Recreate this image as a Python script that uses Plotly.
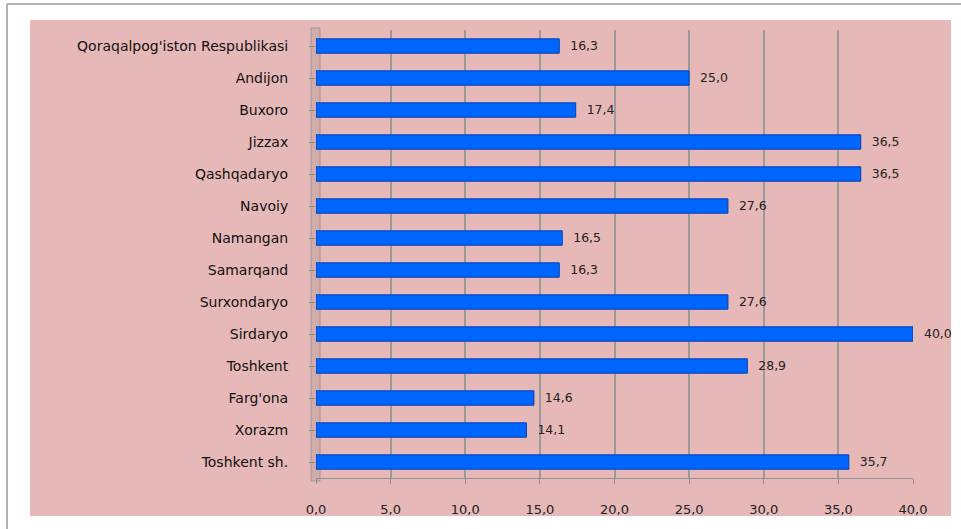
import plotly.graph_objects as go

regions = ["Qoraqalpog'iston Respublikasi", "Andijon", "Buxoro", "Jizzax", "Qashqadaryo",
           "Navoiy", "Namangan", "Samarqand", "Surxondaryo", "Sirdaryo", "Toshkent",
           "Farg'ona", "Xorazm", "Toshkent sh."]
values = [16.3, 25.0, 17.4, 36.5, 36.5, 27.6, 16.5, 16.3, 27.6, 40.0, 28.9, 14.6, 14.1, 35.7]
x_ticks = [0, 5, 10, 15, 20, 25, 30, 35, 40]

W, H = 961, 529
L, R, T, B = 316, 48, 30, 51
pw, ph = W - L - R, H - T - B

def px(x):
    return (x - L) / pw

def py(y):
    return (H - B - y) / ph

fig = go.Figure()
fig.add_trace(go.Bar(
    y=regions, x=values, orientation="h",
    marker=dict(color="#0066FF", line=dict(color="#0042B0", width=1)),
    width=0.45,
    texttemplate="  %{x:.1f}", textposition="outside",
    textfont=dict(family="DejaVu Sans", size=13, color="#222222"),
    cliponaxis=False,
))

shapes = [
    dict(type="rect", xref="paper", yref="paper", x0=px(30), x1=px(951), y0=py(516), y1=py(20),
         fillcolor="#E6B8B7", line=dict(width=0), layer="below"),
    dict(type="line", xref="paper", yref="paper", x0=px(7), x1=px(7), y0=py(529), y1=py(4),
         line=dict(color="#9A9A9A", width=1.5)),
    dict(type="line", xref="paper", yref="paper", x0=px(7), x1=px(961), y0=py(4), y1=py(4),
         line=dict(color="#9A9A9A", width=1.5)),
    dict(type="rect", xref="paper", yref="paper", x0=px(311), x1=px(320), y0=py(481), y1=py(28),
         fillcolor="#D2ACAB", line=dict(color="#9A9A9A", width=1), layer="below"),
]

fig.update_layout(
    width=W, height=H,
    margin=dict(l=L, r=R, t=T, b=B),
    paper_bgcolor="white",
    plot_bgcolor="#E6B8B7",
    separators=", ",
    showlegend=False,
    bargap=0.5,
    shapes=shapes,
    xaxis=dict(range=[0, 40], tickvals=x_ticks, tickformat=".1f",
               showgrid=True, gridcolor="#9A9A9A", gridwidth=1.5,
               zeroline=False, showline=True, linecolor="#8F8F8F",
               ticks="outside", ticklen=5, tickcolor="#8F8F8F",
               ticklabelstandoff=14,
               tickfont=dict(family="DejaVu Sans", size=13, color="#222222")),
    yaxis=dict(autorange="reversed", showgrid=False, zeroline=False,
               ticks="outside", ticklen=6, tickcolor="#8F8F8F",
               ticklabelstandoff=18,
               tickfont=dict(family="DejaVu Sans", size=14, color="#111111")),
)

fig.write_html("out.html")
